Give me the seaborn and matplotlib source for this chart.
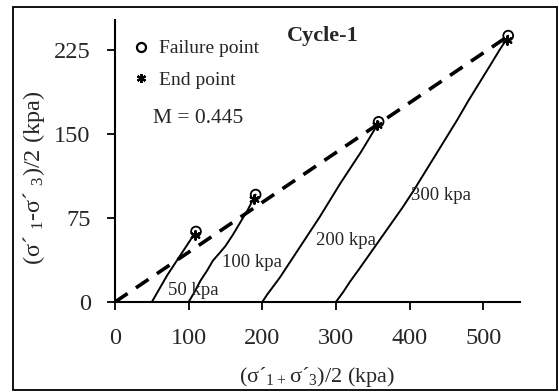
import matplotlib
matplotlib.use("Agg")
import matplotlib.pyplot as plt
from matplotlib.patches import Rectangle
from matplotlib.lines import Line2D
import seaborn as sns
import pandas as pd

# Effective stress paths, cycle 1: p' = (s1'+s3')/2, q = (s1'-s3')/2 (kPa)
p_50 = [50, 57, 64, 71, 78, 85, 92, 98, 103, 107, 110]
q_50 = [0, 8, 16, 24, 31, 38, 45, 51, 56, 60, 63]

p_100 = [100, 108, 116, 125, 133, 141, 150, 160, 170, 180, 188, 191]
q_100 = [0, 9, 19, 28, 37, 43, 50, 60, 71, 82, 92, 96]

p_200 = [200, 207, 215, 224, 236, 250, 264, 278, 292, 306, 320, 334, 346, 355, 358]
q_200 = [0, 7, 14, 22, 34, 48, 62, 76, 91, 106, 120, 134, 147, 157, 161]

p_300 = [300, 310, 320, 330, 345, 360, 375, 390, 405, 420, 435, 450, 465, 480,
         495, 510, 522, 531, 534]
q_300 = [0, 9, 19, 28, 42, 56, 70, 84, 99, 115, 131, 147, 163, 180, 196, 212,
         225, 234, 238]

confining = ["50 kpa", "100 kpa", "200 kpa", "300 kpa"]

failure_p = [110, 191, 358, 534]
failure_q = [63, 96, 161, 238]
end_p = [108, 189, 356, 532]
end_q = [60, 92, 158, 234]

M = 0.445
line_p = [0, 535]

x_ticks = [0, 100, 200, 300, 400, 500]
y_ticks = [0, 75, 150, 225]

sns.set_style("ticks")
plt.rcParams["font.family"] = ["Liberation Serif", "DejaVu Serif"]
plt.rcParams["mathtext.fontset"] = "custom"
plt.rcParams["mathtext.rm"] = "Liberation Serif"
plt.rcParams["mathtext.default"] = "regular"

paths = pd.concat([
    pd.DataFrame({"p": p, "q": q, "path": name})
    for p, q, name in zip([p_50, p_100, p_200, p_300],
                          [q_50, q_100, q_200, q_300], confining)
])

fig = plt.figure(figsize=(5.59, 3.92), dpi=100)
ax = fig.add_axes([115 / 559, 1 - 302 / 392, 405 / 559, 282 / 392])

# stress paths
for name in confining:
    sns.lineplot(data=paths[paths["path"] == name], x="p", y="q", sort=False,
                 estimator=None, color="black", lw=1.4, ax=ax)

# critical state line q = M p'
line_q = [M * v for v in line_p]
sns.lineplot(x=line_p, y=line_q, color="black", lw=2.6, ax=ax,
             dashes=False, linestyle=(0, (4.2, 2.8)))

# failure and end points
sns.scatterplot(x=failure_p, y=failure_q, marker="o", s=50,
                facecolor="none", edgecolor="black", linewidth=1.3, ax=ax, zorder=5)
sns.scatterplot(x=end_p, y=end_q, marker=(6, 2, 0), s=40,
                color="black", linewidth=1.5, ax=ax, zorder=5)

ax.set_xlim(0, 550)
ax.set_ylim(0, 252)
ax.set_xticks(x_ticks)
ax.set_yticks(y_ticks)
ax.tick_params(axis="both", direction="out", length=5.5, width=1.3,
               labelsize=17.5, color="black")
ax.tick_params(axis="x", pad=13)
ax.tick_params(axis="y", pad=12)
for side in ["top", "right"]:
    ax.spines[side].set_visible(False)
for side in ["left", "bottom"]:
    ax.spines[side].set_linewidth(1.5)
    ax.spines[side].set_color("black")

ax.set_xlabel("(σ´$_{1+}$σ´$_{3}$)/2 (kpa)", fontsize=16)
ax.set_ylabel("(σ´ $_{1}$-σ´ $_{3}$)/2 (kpa)", fontsize=17.5)
ax.xaxis.set_label_coords(0.5, -0.222)
ax.yaxis.set_label_coords(-0.168, 0.44)

# confining pressure labels
label_pos = [(107, 10), (186, 35), (314, 55), (443, 95)]
for name, (x, y) in zip(confining, label_pos):
    ax.text(x, y, name, fontsize=13.5, ha="center", va="center")

ax.text(282, 238, "Cycle-1", fontsize=16, fontweight="bold",
        ha="center", va="center")
ax.text(113, 164, "M = 0.445", fontsize=15.5, ha="center", va="center")

handles = [
    Line2D([], [], marker="o", linestyle="none", markerfacecolor="none",
           markeredgecolor="black", markeredgewidth=1.6, markersize=6.5),
    Line2D([], [], marker=(6, 2, 0), linestyle="none", color="black",
           markeredgewidth=1.6, markersize=6.5),
]
ax.legend(handles, ["Failure point", "End point"], frameon=False,
          loc="upper left", bbox_to_anchor=(0.045, 0.93), fontsize=14,
          handlelength=0.8, handletextpad=0.55, labelspacing=0.72,
          borderaxespad=0.0, borderpad=0.0)

fig.patches.append(Rectangle((13 / 559, 1 - 390 / 392), 544 / 559, 383 / 392,
                             transform=fig.transFigure, fill=False,
                             edgecolor="black", lw=1.3))

fig.savefig("out.png", dpi=100, facecolor="white")
